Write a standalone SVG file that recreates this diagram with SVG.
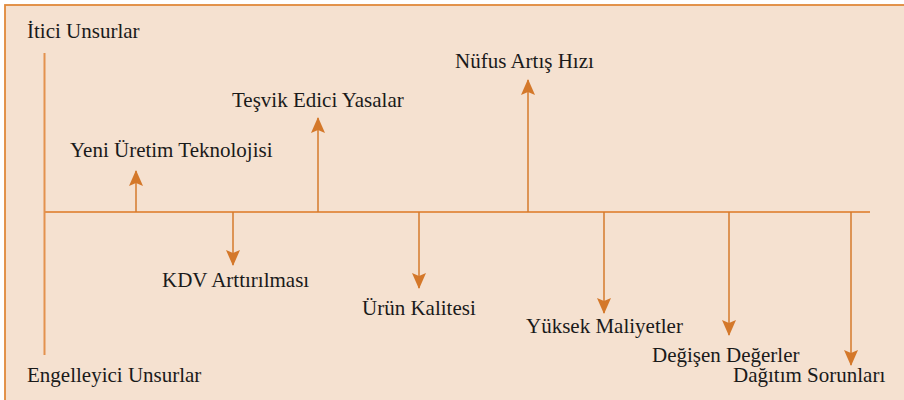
<svg xmlns="http://www.w3.org/2000/svg" width="904" height="400" viewBox="0 0 904 400">
<style>
.lbl{font-family:"Liberation Serif","Times New Roman",serif;font-size:21px;fill:#1a1a1a}
.axis{stroke:#E3924E;stroke-width:2;fill:none}
.arr{stroke:#D47A2C;stroke-width:1.5;fill:none;marker-end:url(#ah)}
</style>
<defs>
<marker id="ah" markerUnits="userSpaceOnUse" markerWidth="16" markerHeight="14" viewBox="0 0 16 14" refX="15" refY="7" orient="auto">
<path d="M0,0 L16,7 L0,14 L3,7 Z" fill="#D4782A"/>
</marker>
</defs>
<rect x="5" y="5" width="910" height="410" fill="#F5E1D0" stroke="#E0893A" stroke-width="1.8"/>
<g id="axes">
<line class="axis" x1="44.5" y1="53" x2="44.5" y2="355"/>
<line class="axis" x1="44" y1="212" x2="870" y2="212"/>
</g>
<g id="connectors">
<line class="arr" x1="136" y1="212" x2="136" y2="171"/>
<line class="arr" x1="318" y1="212" x2="318" y2="118"/>
<line class="arr" x1="528" y1="212" x2="528" y2="80"/>
<line class="arr" x1="233" y1="212" x2="233" y2="265"/>
<line class="arr" x1="419" y1="212" x2="419" y2="288"/>
<line class="arr" x1="604" y1="212" x2="604" y2="313"/>
<line class="arr" x1="729" y1="212" x2="729" y2="335"/>
<line class="arr" x1="851" y1="212" x2="851" y2="365"/>
</g>
<g id="itici"><text class="lbl" x="27" y="38">İtici Unsurlar</text></g>
<g id="engelleyici"><text class="lbl" x="27" y="382">Engelleyici Unsurlar</text></g>
<g id="yeni"><text class="lbl" x="70" y="157">Yeni Üretim Teknolojisi</text></g>
<g id="tesvik"><text class="lbl" x="232" y="107">Teşvik Edici Yasalar</text></g>
<g id="nufus"><text class="lbl" x="455" y="68">Nüfus Artış Hızı</text></g>
<g id="kdv"><text class="lbl" x="162" y="287">KDV Arttırılması</text></g>
<g id="urun"><text class="lbl" x="362" y="315">Ürün Kalitesi</text></g>
<g id="yuksek"><text class="lbl" x="526" y="333">Yüksek Maliyetler</text></g>
<g id="degisen"><text class="lbl" x="652" y="362">Değişen Değerler</text></g>
<g id="dagitim"><text class="lbl" x="733" y="382">Dağıtım Sorunları</text></g>
</svg>
